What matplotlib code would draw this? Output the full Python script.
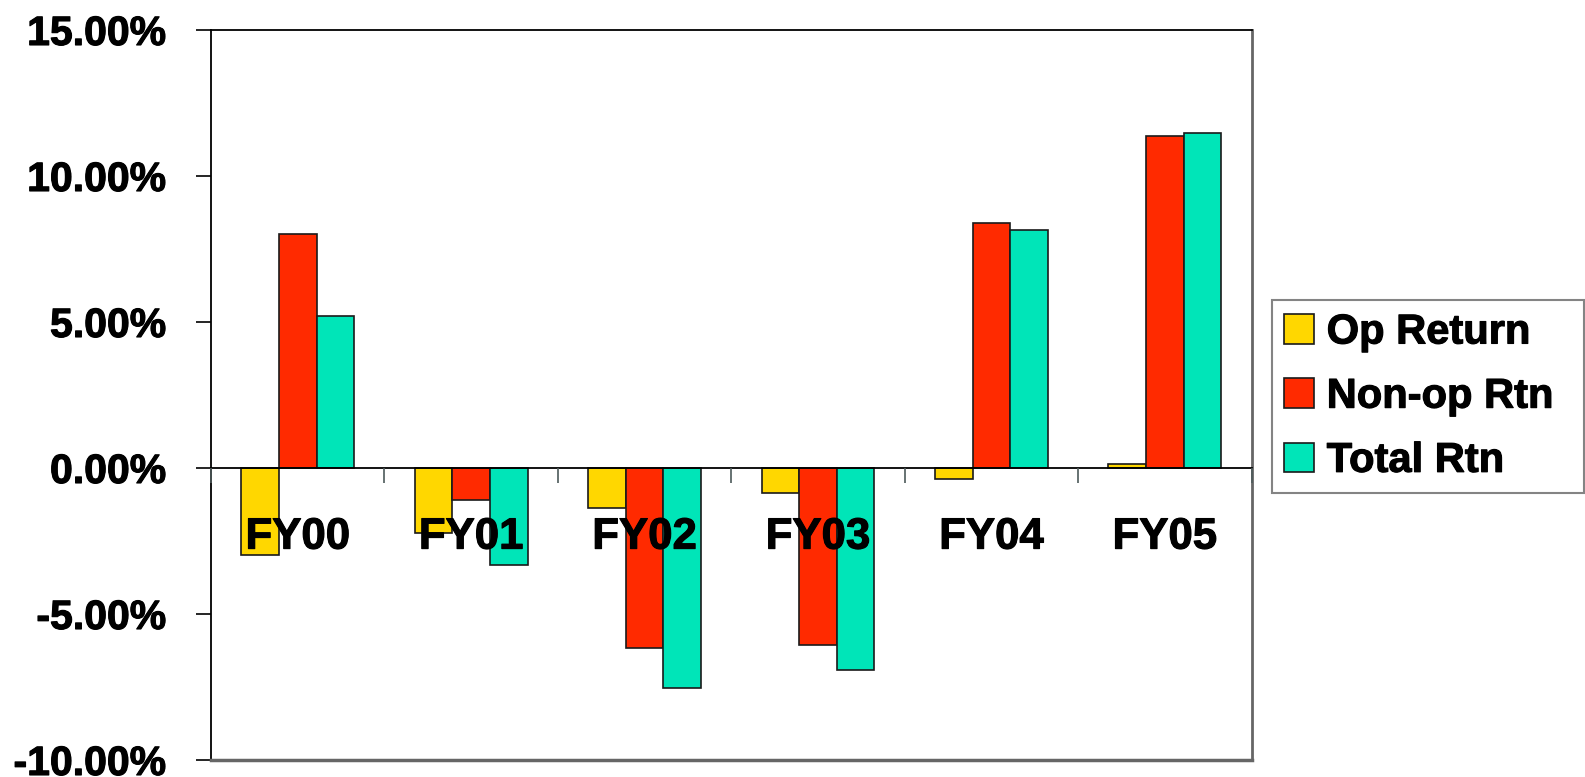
import matplotlib
matplotlib.use("Agg")
import matplotlib.pyplot as plt
import matplotlib.patheffects as pe
import numpy as np
from matplotlib.ticker import FixedLocator, FuncFormatter

plt.rcParams["font.family"] = ["Liberation Sans", "DejaVu Sans"]
plt.rcParams["font.weight"] = "bold"

# Fiscal-year return components (percent)
years = ["FY00", "FY01", "FY02", "FY03", "FY04", "FY05"]
op_return = [-2.97, -2.21, -1.36, -0.87, -0.37, 0.13]
nonop_rtn = [8.03, -1.11, -6.17, -6.06, 8.39, 11.37]
total_rtn = [5.19, -3.33, -7.54, -6.92, 8.15, 11.48]
series_names = ["Op Return", "Non-op Rtn", "Total Rtn"]
series_colors = ["#FFD700", "#FF2A00", "#00E5B8"]
y_ticks = [-10, -5, 0, 5, 10, 15]

heavy = [pe.withStroke(linewidth=0.8, foreground="black")]

fig = plt.figure(figsize=(15.85, 7.77), dpi=100)
ax = fig.add_axes([211 / 1585, 17 / 777, (1251.5 - 211) / 1585, 730 / 777])

x = np.arange(len(years))
width = 0.217
for i, (vals, name, col) in enumerate(zip([op_return, nonop_rtn, total_rtn],
                                          series_names, series_colors)):
    ax.bar(x + (i - 1) * width, vals, width, color=col, edgecolor="#1a1a1a",
           linewidth=1.2, label=name, zorder=1)

ax.set_xlim(-0.5, len(years) - 0.5)
ax.set_ylim(y_ticks[0], y_ticks[-1])

# y axis
ax.yaxis.set_major_locator(FixedLocator(y_ticks))
ax.yaxis.set_major_formatter(FuncFormatter(lambda v, p: f"{v:.2f}%"))
ax.tick_params(axis="y", direction="out", length=10.8, width=1.2, color="black",
               labelsize=29.5, pad=21.5)

# category axis sits on the zero line, drawn over the bars
ax.spines["bottom"].set_position(("data", 0))
ax.spines["bottom"].set_color("black")
ax.spines["bottom"].set_linewidth(1.3)
ax.spines["bottom"].set_zorder(4)
ax.xaxis.set_major_locator(FixedLocator(np.arange(len(years) + 1) - 0.5))
ax.xaxis.set_major_formatter(FuncFormatter(lambda v, p: ""))
ax.xaxis.set_minor_locator(FixedLocator(x))
ax.set_xticklabels(years, minor=True)
ax.tick_params(axis="x", which="major", direction="out", length=10.8, width=1.2,
               color="#4d5a5a")
ax.tick_params(axis="x", which="minor", length=0, labelsize=31.5, pad=35)
ax.xaxis.set_zorder(5)
for lbl in ax.get_xticklabels(minor=True) + ax.get_yticklabels():
    lbl.set_path_effects(heavy)

# plot-area frame
ax.spines["left"].set_color("black")
ax.spines["left"].set_linewidth(1.3)
ax.spines["top"].set_color("black")
ax.spines["top"].set_linewidth(1.3)
ax.spines["right"].set_color("#666666")
ax.spines["right"].set_linewidth(2)
ax.axhline(y_ticks[0], color="#666666", linewidth=2.5, clip_on=False, zorder=4)

lx0, lx1 = 1271.7 / 1585, 1584 / 1585
ly1, ly0 = 1 - 300 / 777, 1 - 489 / 777
leg = fig.legend(loc="upper left", bbox_to_anchor=(lx0, ly0, lx1 - lx0, ly1 - ly0),
                 mode="expand", fontsize=30, frameon=True, fancybox=False,
                 handlelength=0.72, handleheight=0.7, handletextpad=0.3,
                 borderpad=0.3, labelspacing=0.58, borderaxespad=0)
leg.get_frame().set_edgecolor("#666666")
leg.get_frame().set_linewidth(1.5)
for t in leg.get_texts():
    t.set_path_effects(heavy)

fig.savefig("out.png", dpi=100)
